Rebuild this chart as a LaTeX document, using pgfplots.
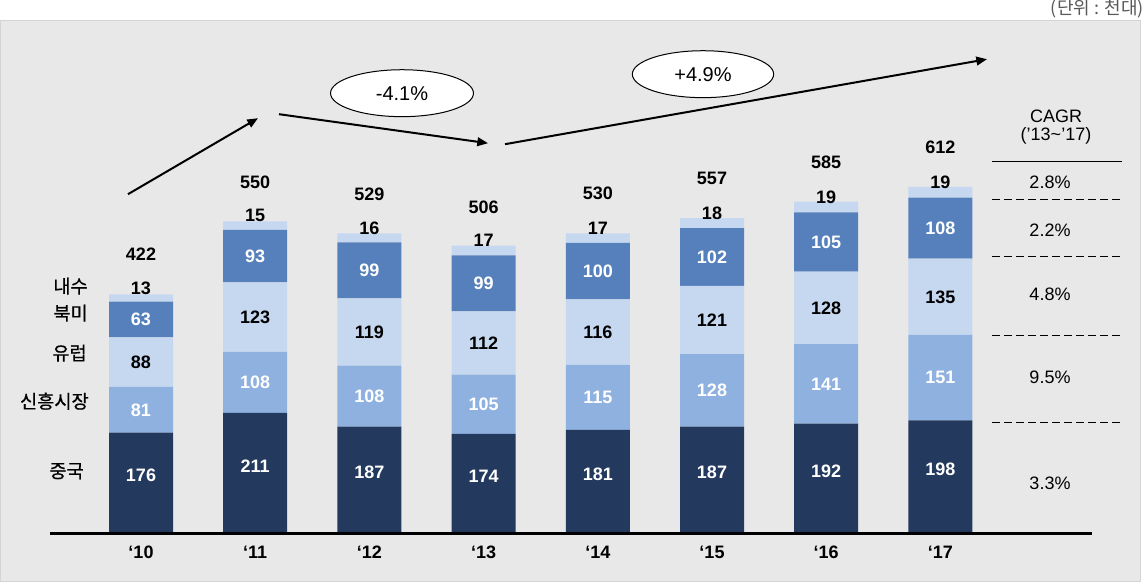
\documentclass[border=0pt]{standalone}
\usepackage{pgfplots}
\pgfplotsset{compat=1.18}
\usepackage{pgfplotstable}
\usepackage{fontspec}
\setmainfont{Liberation Sans}
\newfontfamily\kr{Noto Sans CJK KR}[FakeBold=0.6]
\newfontfamily\krl{Noto Sans CJK KR}
\usetikzlibrary{arrows.meta}
\definecolor{cChina}{RGB}{35,57,94}
\definecolor{cEmerg}{RGB}{142,177,224}
\definecolor{cEurope}{RGB}{198,216,240}
\definecolor{cNA}{RGB}{85,128,188}
\definecolor{cDom}{RGB}{198,216,240}
\definecolor{bg}{RGB}{232,232,232}
\definecolor{bgedge}{RGB}{212,212,212}
\definecolor{unitgray}{RGB}{89,89,89}

\pgfplotstableread{
x china emerging europe namerica domestic total
0 176 81 88 63 13 422
1 211 108 123 93 15 550
2 187 108 119 99 16 529
3 174 105 112 99 17 506
4 181 115 116 100 17 530
5 187 128 121 102 18 557
6 192 141 128 105 19 585
7 198 151 135 108 19 612
}\datatable

\newcommand\numfont{\fontsize{13.5}{16}\selectfont\bfseries}
\pgfplotsset{
  base/.style={
    scale only axis, width=859.5pt, height=438.75pt,
    xmin=-1.2347, xmax=8.8004, ymin=-95.6, ymax=939.8,
    at={(0,0)}, anchor=south west, clip=false,
    axis line style={draw=none}, tick style={draw=none},
    ytick=\empty,
    /pgf/number format/assume math mode=true,
  },
  seg/.style n args={2}{fill=#1, draw=none, nodes near coords, point meta=explicit,
    every node near coord/.append style={anchor=center, font=\numfont, text=#2},
  },
}

\begin{document}
\begin{tikzpicture}
\begin{scope}[x=0.75pt, y=-0.75pt, yshift=438.75pt]
  \fill[white] (0,0) rectangle (1146,585);
  \filldraw[fill=bg, draw=bgedge, line width=0.75pt] (0.5,19) rectangle (1140,580);
\end{scope}

\begin{axis}[base, ybar stacked, bar width=48pt,
  xtick=data, xticklabels={‘10,‘11,‘12,‘13,‘14,‘15,‘16,‘17},
  xticklabel style={font=\numfont, anchor=center, yshift=25.5pt}]
\addplot[seg={cChina}{white}, every node near coord/.append style={yshift=5pt}] table[x=x, y=china, meta=china]{\datatable};
\addplot[seg={cEmerg}{white}] table[x=x, y=emerging, meta=emerging]{\datatable};
\addplot[seg={cEurope}{black}] table[x=x, y=europe, meta=europe]{\datatable};
\addplot[seg={cNA}{white}] table[x=x, y=namerica, meta=namerica]{\datatable};
\addplot[fill=cDom, draw=none, nodes near coords, point meta=explicit,
  every node near coord/.append style={anchor=center, yshift=7.5pt, font=\numfont, text=black}]
  table[x=x, y=domestic, meta=domestic]{\datatable};
\end{axis}

\begin{axis}[base, hide axis]
\addplot[draw=none, mark=none, nodes near coords, point meta=explicit,
  every node near coord/.append style={anchor=center, yshift=29.5pt, font=\numfont, text=black}]
  table[x=x, y=total, meta=total]{\datatable};
\end{axis}

\begin{scope}[x=0.75pt, y=-0.75pt, yshift=438.75pt]
  % baseline
  \draw[line width=2.5pt] (50,532) -- (1092,532);
  % unit
  \node[anchor=east, text=unitgray, inner sep=0pt] at (1144,8) {\krl\fontsize{13.5}{15}\selectfont (단위 : 천대)};
  % category labels
  \begin{scope}[every node/.style={anchor=east, inner sep=0pt, font=\kr\fontsize{14}{16}\selectfont}]
    \node at (88,285) {내수};
    \node at (88,312) {북미};
    \node at (87,352) {유럽};
    \node at (89,400) {신흥시장};
    \node at (84,470) {중국};
  \end{scope}
  % arrows
  \draw[line width=1.5pt, -{Triangle[length=8pt,width=6.5pt]}] (128,193) -- (258,117);
  \draw[line width=1.5pt, -{Triangle[length=8pt,width=6.5pt]}] (279,113) -- (488,142);
  \draw[line width=1.5pt, -{Triangle[length=8pt,width=6.5pt]}] (505,143) -- (987,58);
  % ellipses
  \filldraw[fill=white, draw=black, line width=0.75pt] (402,92) ellipse [x radius=53.6pt, y radius=17.6pt];
  \node at (402,92) {\fontsize{15}{18}\selectfont -4.1\%};
  \filldraw[fill=white, draw=black, line width=0.75pt] (703,73) ellipse [x radius=53pt, y radius=17.6pt];
  \node at (703,73) {\fontsize{15}{18}\selectfont +4.9\%};
  % CAGR panel
  \begin{scope}[every node/.style={font=\fontsize{13.5}{16}\selectfont}]
    \node at (1056,115) {CAGR};
    \node at (1056,135) {(’13\textasciitilde’17)};
    \node at (1050,181) {2.8\%};
    \node at (1050,229) {2.2\%};
    \node at (1050,293) {4.8\%};
    \node at (1050,376) {9.5\%};
    \node at (1050,482) {3.3\%};
  \end{scope}
  \draw[line width=0.9pt] (992,160) -- (1122,160);
  \foreach \yy in {198,255,334,421}
    \draw[line width=0.75pt, dash pattern=on 6pt off 3pt] (992,\yy) -- (1122,\yy);
\end{scope}
\end{tikzpicture}
\end{document}
